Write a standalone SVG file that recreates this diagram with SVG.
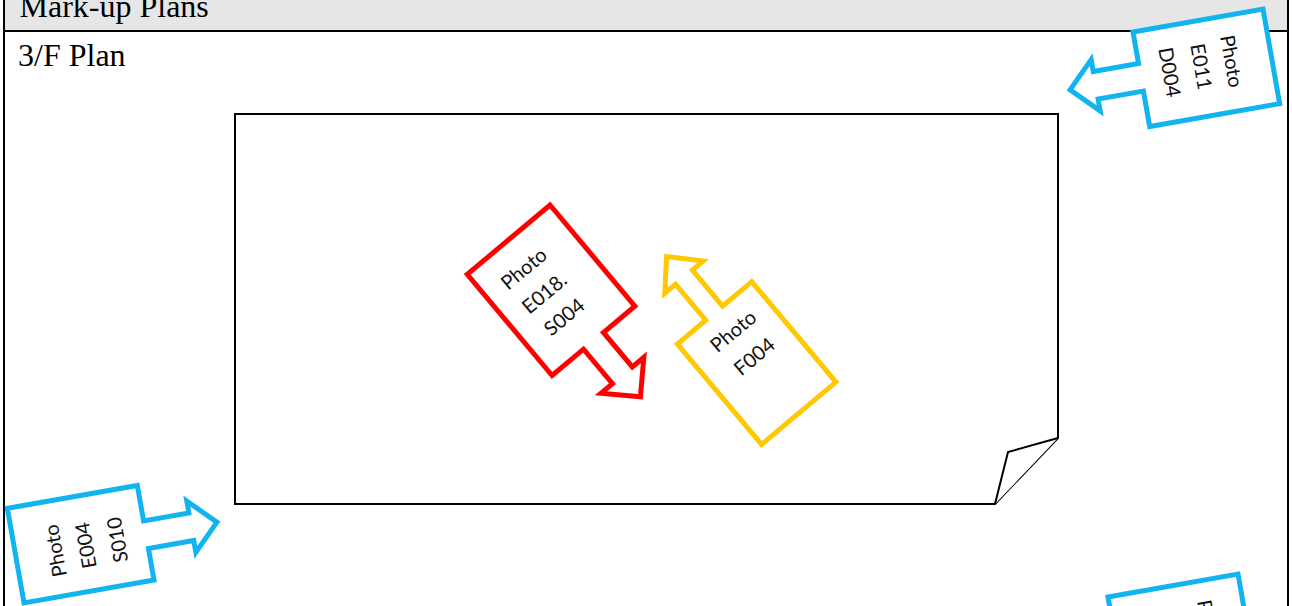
<svg xmlns="http://www.w3.org/2000/svg" width="1292" height="606" viewBox="0 0 1292 606">
<style>
.frame{fill:none;stroke:#000;stroke-width:2}
.hdr{fill:#e6e6e6}
.ttl{font-family:"Liberation Serif","Times New Roman",serif;font-size:32px;fill:#000}
.plan{fill:#fff;stroke:#000;stroke-width:2;stroke-linejoin:miter}
.blue{fill:#fff;stroke:#12b4f0;stroke-width:5}
.red{fill:#fff;stroke:#ff0000;stroke-width:5}
.yel{fill:#fff;stroke:#ffc800;stroke-width:5}
.lbl{font-family:Lato,"Noto Sans",sans-serif;font-size:20px;fill:#111;text-anchor:middle;dominant-baseline:central}
</style>
<defs>
<path id="blueShape" d="M0,0 H132 V96 H0 V60 H-46 V72 L-72,46 L-46,20 V32 H0 Z"/>
</defs>
<g id="table">
<rect class="hdr" x="4" y="-2" width="1284" height="33"/>
<line class="frame" x1="4" y1="-2" x2="4" y2="608"/>
<line class="frame" x1="1288" y1="-2" x2="1288" y2="608"/>
<line class="frame" x1="4" y1="31" x2="1288" y2="31"/>
<text class="ttl" x="19.5" y="17">Mark-up Plans</text>
<text class="ttl" x="18" y="66">3/F Plan</text>
</g>
<g id="plan">
<path class="plan" d="M235,114 H1058 V438 L995,504 H235 Z"/>
<path class="plan" d="M1058,438 L1008,452 L995,504"/>
</g>
<g id="connectors"></g>
<g id="photo-e011-d004" transform="translate(1133,32) rotate(-10)">
<use href="#blueShape" class="blue"/>
<text class="lbl" transform="translate(93,46) rotate(90)">Photo</text>
<text class="lbl" transform="translate(62,46) rotate(90)">E011</text>
<text class="lbl" transform="translate(30,46) rotate(90)">D004</text>
</g>
<g id="photo-e004-s010" transform="translate(154,580) rotate(170)">
<use href="#blueShape" class="blue"/>
<text class="lbl" transform="translate(93,46) rotate(90)">Photo</text>
<text class="lbl" transform="translate(62,46) rotate(90)">E004</text>
<text class="lbl" transform="translate(30,46) rotate(90)">S010</text>
</g>
<g id="photo-bottom-right" transform="translate(1108,597) rotate(-10)">
<use href="#blueShape" class="blue"/>
<text class="lbl" transform="translate(95,46) rotate(90)">Photo</text>
</g>
<g id="photo-e018-s004" transform="translate(550,205) rotate(50)">
<path class="red" d="M0,0 H132 V41 H177 V26 L205,54 L177,82 V67 H132 V108 H0 Z"/>
<text class="lbl" transform="translate(31,61) rotate(-90)">Photo</text>
<text class="lbl" transform="translate(63,61) rotate(-90)">E018.</text>
<text class="lbl" transform="translate(94,61) rotate(-90)">S004</text>
</g>
<g id="photo-f004" transform="translate(751.7,281.7) rotate(50)">
<path class="yel" d="M0,0 H131 V97 H0 V60 H-47 V74 L-74,49 L-47,24 V38 H0 Z"/>
<text class="lbl" transform="translate(25,46) rotate(-90)">Photo</text>
<text class="lbl" transform="translate(58,46) rotate(-90)">F004</text>
</g>
</svg>
